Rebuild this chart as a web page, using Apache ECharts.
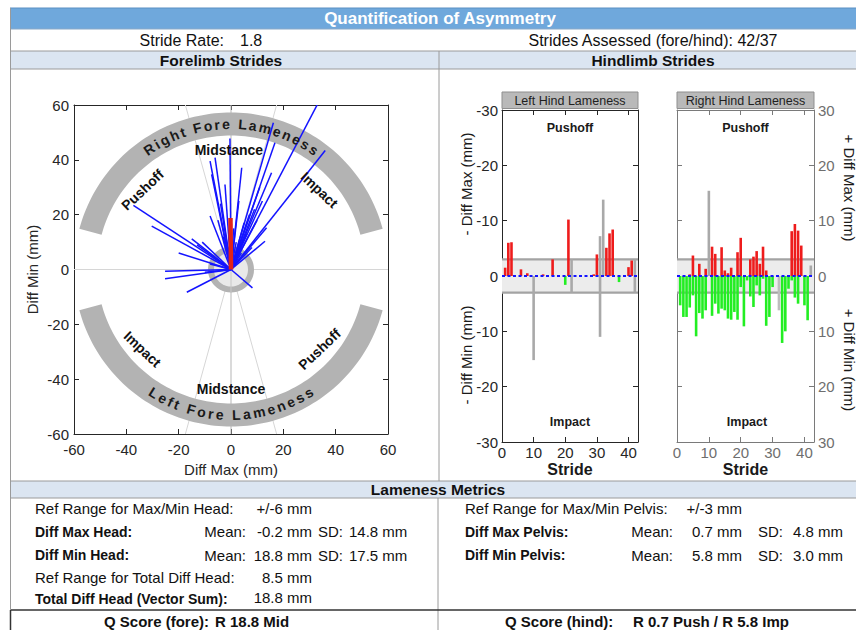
<!DOCTYPE html>
<html><head><meta charset="utf-8">
<script src="https://cdn.jsdelivr.net/npm/echarts@6/dist/echarts.min.js"></script>
<style>html,body{margin:0;padding:0;background:#fff}#c{width:856px;height:630px}</style>
</head><body><div id="c"></div>
<script>
// ---------------- DATA ----------------
// Forelimb strides: head asymmetry vector per stride (mm)
const foreDiffMax = [34, 36, 16.2, 16.8, 15.5, 11, 4.1, -0.4, -8.0, -6.1, -7.4, -2.3, -8, -37.3, -30.3, -15, -13, -11, -25.2, -25.2, -16.9, 8.2, 13.6, 13, 9, 7, 5, 10, 3, 6, 12, -3, -1, 2, -10, -8, 4, 8, -4, -20, 1, -5];
const foreDiffMin = [62, 43.4, 53.5, 46.2, 35.3, 30, 37.1, 47.8, 39.5, 40.8, 34.7, 31, 19.5, 23.4, 15.8, 11.2, 9, 10, -0.6, -3.4, -8.3, -6.7, 15.2, 10.3, 22, 20, 17, 18, 25, 13, 25, 12, 8, 10, -1, 2, 6, 8, 24, 6, 15, 18];
const foreMean = [-0.2, 18.8];
const foreTicks = [-60, -40, -20, 0, 20, 40, 60];

// Hindlimb strides (mm)
const hindTicksX = [0, 10, 20, 30, 40];
const hindTicksY = [-30, -20, -10, 0, 10, 20, 30];
const hindStrideMax = 43;
const refRangeHind = 3;

const lhPushStride = [1, 2, 3, 6, 8, 13, 16, 21, 29, 30, 33, 34, 35, 40, 41];
const lhPushVal    = [1.5, 6.0, 6.1, 1.2, 0.5, 0.3, 3.0, 10.2, 0.3, 3.9, 5.1, 7.7, 8.4, 1.6, 2.8];
const lhImpStride  = [20, 37];
const lhImpVal     = [1.6, 1.1];
const lhExUpStride = [22, 31, 32, 42];
const lhExUpVal    = [3, 7.2, 13.8, 3];
const lhExDnStride = [10, 22, 31, 42];
const lhExDnVal    = [15.2, 3, 11.0, 3];

const rhPushStride = [4, 5, 7, 9, 11, 12, 14, 15, 16, 17, 19, 20, 23, 24, 25, 26, 27, 28, 36, 37, 38, 39];
const rhPushVal    = [0.3, 3.7, 2.2, 1.3, 5.3, 4.0, 5.2, 1.0, 0.5, 1.5, 4.3, 6.9, 3.0, 3.5, 4.5, 2.2, 5.3, 1.0, 8.1, 9.4, 8.2, 5.5];
const rhImpStride  = [1, 2, 3, 4, 5, 6, 7, 8, 9, 11, 12, 13, 14, 15, 16, 17, 18, 19, 20, 21, 22, 23, 24, 25, 26, 27, 28, 29, 30, 33, 34, 35, 36, 37, 38, 40, 41];
const rhImpVal     = [5.3, 7.4, 7.4, 5.7, 3.5, 10.9, 6.7, 7.7, 6.2, 7.2, 5.0, 6.8, 5.9, 6.2, 7.7, 7.9, 6.5, 7.9, 2.0, 9.1, 0.8, 3.7, 5.6, 1.7, 3.5, 0.5, 9.0, 7.4, 2.0, 12.1, 10.0, 2.3, 0.8, 3.9, 5.0, 5.3, 8.0];
const rhExUpStride = [10, 42];
const rhExUpVal    = [15.4, 1.9];
const rhExDnStride = [32];
const rhExDnVal    = [6.2];

// ---------------- STYLE / LAYOUT ----------------
const FF = '"Liberation Sans", Arial, Helvetica, sans-serif';
const fnt = (s, b) => (b ? 'bold ' : '') + s + 'px ' + FF;
const RED = '#ee1c1c', GREEN = '#22ee22', GREY = '#a9a9a9', BLUE = '#1414ff';

const mctx = document.createElement('canvas').getContext('2d');
function tw(t, font) { mctx.font = font; return mctx.measureText(t).width; }

// decoration geometry for forelimb polar panel (x-data units)
const arcOuter = 60, arcInner = 51.2, ringOuter = 8.8, ringInner = 6.5;
const arcSpan = [15, 165];
const sectorLineAngles = [74.5, 105.5, -74.5, -105.5];
const phaseR = 45.5;
const phaseLabels = [
  {text: 'Pushoff', ang: 138, rot: 43.5}, {text: 'Midstance', ang: 91, rot: 0}, {text: 'Impact', ang: 42, rot: -43.5},
  {text: 'Impact', ang: -138, rot: -43.5}, {text: 'Midstance', ang: -90, rot: 0}, {text: 'Pushoff', ang: -42, rot: 43.5}
];
const arcTitles = [{text: 'Right Fore Lameness', side: 'top'}, {text: 'Left Fore Lameness', side: 'bottom'}];

function pt(c, r, deg) { const a = deg * Math.PI / 180; return [c[0] + r * Math.cos(a), c[1] - r * Math.sin(a)]; }

function foreBack(params, api) {
  const cs = params.coordSys, c = api.coord([0, 0]), u = api.size([1, 1]);
  const kids = [];
  kids.push({type: 'line', shape: {x1: cs.x, y1: c[1], x2: cs.x + cs.width, y2: c[1]}, style: {stroke: '#d6d6d6', lineWidth: 1}});
  sectorLineAngles.forEach(a => {
    const p = pt(c, 600, a);
    kids.push({type: 'line', shape: {x1: c[0], y1: c[1], x2: p[0], y2: p[1]}, style: {stroke: '#d6d6d6', lineWidth: 1}});
  });
  kids.push({type: 'line', shape: {x1: c[0], y1: cs.y, x2: c[0], y2: cs.y + cs.height}, style: {stroke: '#b5b5b5', lineWidth: 1}});
  const rO = arcOuter * u[0], rI = arcInner * u[0];
  [1, -1].forEach(sg => {
    const pts = [];
    for (let a = arcSpan[0]; a <= arcSpan[1] + 0.01; a += 1.5) pts.push(pt(c, rO, sg * a));
    for (let a = arcSpan[1]; a >= arcSpan[0] - 0.01; a -= 1.5) pts.push(pt(c, rI, sg * a));
    kids.push({type: 'polygon', shape: {points: pts}, style: {fill: '#b3b3b3'}});
  });
  kids.push({type: 'circle', shape: {cx: c[0], cy: c[1], r: ringOuter * u[0]}, style: {fill: '#b3b3b3'}});
  kids.push({type: 'circle', shape: {cx: c[0], cy: c[1], r: ringInner * u[0]}, style: {fill: '#e9e9e9'}});
  kids.push({type: 'line', shape: {x1: c[0], y1: c[1] - ringOuter * u[0], x2: c[0], y2: c[1] + ringOuter * u[0]}, style: {stroke: '#c8c8c8', lineWidth: 1}});
  return {type: 'group', children: kids};
}

function foreVector(params, api) {
  const o = api.coord([0, 0]), p = api.coord([api.value(0), api.value(1)]);
  return {type: 'line', shape: {x1: o[0], y1: o[1], x2: p[0], y2: p[1]}, style: {stroke: BLUE, lineWidth: 1.5}};
}
function foreMeanItem(params, api) {
  const o = api.coord([0, 0]), p = api.coord([api.value(0), api.value(1)]);
  return {type: 'line', shape: {x1: o[0], y1: o[1], x2: p[0], y2: p[1]}, style: {stroke: '#e2231a', lineWidth: 4.5}};
}

function foreText(params, api) {
  const c = api.coord([0, 0]), u = api.size([1, 1]);
  const kids = [];
  const tf = fnt(14, true), sp = 2.3, r = (arcOuter + arcInner) / 2 * u[0];
  arcTitles.forEach(t => {
    const chars = [...t.text];
    const ws = chars.map(ch => tw(ch, tf));
    const total = ws.reduce((a, b) => a + b, 0) + sp * (ws.length - 1);
    const span = total / r;
    let off = 0;
    chars.forEach((ch, i) => {
      const mid = off + ws[i] / 2;
      const th = t.side === 'top' ? Math.PI / 2 + span / 2 - mid / r : -Math.PI / 2 - span / 2 + mid / r;
      if (ch !== ' ') {
        kids.push({type: 'text', x: c[0] + r * Math.cos(th), y: c[1] - r * Math.sin(th),
          rotation: t.side === 'top' ? th - Math.PI / 2 : th + Math.PI / 2,
          style: {text: ch, font: tf, fill: '#1a1a1a', align: 'center', verticalAlign: 'middle'}});
      }
      off += ws[i] + sp;
    });
  });
  phaseLabels.forEach(l => {
    const p = pt(c, phaseR * u[0], l.ang);
    kids.push({type: 'text', x: p[0], y: p[1], rotation: l.rot * Math.PI / 180,
      style: {text: l.text, font: fnt(14, true), fill: '#111', align: 'center', verticalAlign: 'middle'}});
  });
  return {type: 'group', children: kids};
}

function hindBand(params, api) {
  const cs = params.coordSys;
  const yT = api.coord([0, refRangeHind])[1], yB = api.coord([0, -refRangeHind])[1];
  return {type: 'group', children: [
    {type: 'rect', shape: {x: cs.x, y: yT, width: cs.width, height: yB - yT}, style: {fill: '#ececec'}},
    {type: 'line', shape: {x1: cs.x, y1: yT, x2: cs.x + cs.width, y2: yT}, style: {stroke: '#a3a3a3', lineWidth: 2.2}},
    {type: 'line', shape: {x1: cs.x, y1: yB, x2: cs.x + cs.width, y2: yB}, style: {stroke: '#a3a3a3', lineWidth: 2.2}}
  ]};
}
function hindZero(params, api) {
  const cs = params.coordSys, y = api.coord([0, 0])[1];
  return {type: 'line', shape: {x1: cs.x, y1: y, x2: cs.x + cs.width, y2: y}, style: {stroke: BLUE, lineWidth: 2, lineDash: [3, 2.5]}};
}

const pairs = (s, v, sign) => s.map((x, i) => [x, sign * v[i]]);

function axisBase(color) {
  return {
    axisLine: {show: true, onZero: false, lineStyle: {color: color, width: 1}},
    axisTick: {show: true, inside: true, length: 5, lineStyle: {color: color}},
    splitLine: {show: false}
  };
}
function mirror(o, color) { return Object.assign({}, o, axisBase(color), {axisLabel: {show: false}, name: ''}); }

const foreX = Object.assign({type: 'value', gridIndex: 0, position: 'bottom', min: foreTicks[0], max: foreTicks[foreTicks.length - 1], interval: foreTicks[1] - foreTicks[0],
  name: 'Diff Max (mm)', nameLocation: 'middle', nameGap: 22, nameTextStyle: {fontSize: 15, color: '#262626', fontFamily: FF},
  axisLabel: {fontSize: 15, color: '#262626', fontFamily: FF, margin: 8}}, axisBase('#262626'));
const foreY = Object.assign({type: 'value', gridIndex: 0, position: 'left', min: foreTicks[0], max: foreTicks[foreTicks.length - 1], interval: foreTicks[1] - foreTicks[0],
  name: 'Diff Min (mm)', nameLocation: 'middle', nameGap: 34, nameTextStyle: {fontSize: 15, color: '#262626', fontFamily: FF},
  axisLabel: {fontSize: 15, color: '#262626', fontFamily: FF, margin: 5}}, axisBase('#262626'));

function hindX(g, color, lblColor) {
  return Object.assign({type: 'value', gridIndex: g, position: 'bottom', min: hindTicksX[0], max: hindStrideMax, interval: hindTicksX[1] - hindTicksX[0],
    axisLabel: {fontSize: 15, color: lblColor, fontFamily: FF, margin: 3, formatter: v => hindTicksX.indexOf(v) >= 0 ? String(v) : ''}}, axisBase(color));
}
function hindY(g, pos, color, lblColor, fmt) {
  return Object.assign({type: 'value', gridIndex: g, position: pos, min: hindTicksY[0], max: hindTicksY[hindTicksY.length - 1], interval: hindTicksY[1] - hindTicksY[0],
    axisLabel: {fontSize: 15, color: lblColor, fontFamily: FF, margin: 4, formatter: fmt}}, axisBase(color));
}
const RHC = '#7a7a7a';

const xAxes = [
  foreX, mirror(foreX, '#262626'),
  hindX(1, '#262626', '#262626'), mirror(hindX(1, '#262626', '#262626'), '#262626'),
  hindX(2, RHC, '#6e6e6e'), mirror(hindX(2, RHC, '#6e6e6e'), RHC)
];
xAxes[1].position = 'top'; xAxes[3].position = 'top'; xAxes[5].position = 'top';
const lhY = hindY(1, 'left', '#262626', '#262626', v => v === 0 ? '0' : '-' + Math.abs(v));
const rhY = hindY(2, 'right', RHC, '#6e6e6e', v => String(Math.abs(v)));
const yAxes = [foreY, mirror(foreY, '#262626'), lhY, mirror(lhY, '#262626'), mirror(rhY, RHC), rhY];
yAxes[1].position = 'right'; yAxes[3].position = 'right'; yAxes[4].position = 'left';

function barSeries(xi, data, color) {
  return {type: 'bar', xAxisIndex: xi, yAxisIndex: xi, data: data, barWidth: 2.6, barGap: '-100%', z: 3, silent: true,
    itemStyle: {color: color}, animation: false};
}

const series = [
  {type: 'custom', xAxisIndex: 0, yAxisIndex: 0, data: [[0, 0]], encode: {x: 0, y: 1}, renderItem: foreBack, clip: true, z: 1, silent: true},
  {type: 'custom', xAxisIndex: 0, yAxisIndex: 0, data: foreDiffMax.map((x, i) => [x, foreDiffMin[i]]), encode: {x: 0, y: 1}, renderItem: foreVector, clip: true, z: 2, silent: true},
  {type: 'custom', xAxisIndex: 0, yAxisIndex: 0, data: [foreMean], encode: {x: 0, y: 1}, renderItem: foreMeanItem, clip: true, z: 3, silent: true},
  {type: 'custom', xAxisIndex: 0, yAxisIndex: 0, data: [[0, 0]], encode: {x: 0, y: 1}, renderItem: foreText, clip: false, z: 4, silent: true},

  {type: 'custom', xAxisIndex: 2, yAxisIndex: 2, data: [[0, 0]], encode: {x: 0, y: 1}, renderItem: hindBand, z: 1, silent: true},
  barSeries(2, pairs(lhExUpStride, lhExUpVal, 1), GREY),
  barSeries(2, pairs(lhExDnStride, lhExDnVal, -1), GREY),
  barSeries(2, pairs(lhPushStride, lhPushVal, 1), RED),
  barSeries(2, pairs(lhImpStride, lhImpVal, -1), GREEN),
  {type: 'custom', xAxisIndex: 2, yAxisIndex: 2, data: [[0, 0]], encode: {x: 0, y: 1}, renderItem: hindZero, z: 5, silent: true},

  {type: 'custom', xAxisIndex: 4, yAxisIndex: 5, data: [[0, 0]], encode: {x: 0, y: 1}, renderItem: hindBand, z: 1, silent: true},
  Object.assign(barSeries(4, pairs(rhExUpStride, rhExUpVal, 1), GREY), {yAxisIndex: 5}),
  Object.assign(barSeries(4, pairs(rhExDnStride, rhExDnVal, -1), '#bdbdbd'), {yAxisIndex: 5}),
  Object.assign(barSeries(4, pairs(rhPushStride, rhPushVal, 1), RED), {yAxisIndex: 5}),
  Object.assign(barSeries(4, pairs(rhImpStride, rhImpVal, -1), GREEN), {yAxisIndex: 5}),
  {type: 'custom', xAxisIndex: 4, yAxisIndex: 5, data: [[0, 0]], encode: {x: 0, y: 1}, renderItem: hindZero, z: 5, silent: true}
];

// ---------------- REPORT FRAME (graphic) ----------------
const G = [];
const rect = (x, y, w, h, fill, stroke) => G.push({type: 'rect', shape: {x, y, width: w, height: h}, style: {fill, stroke: stroke || null, lineWidth: 1}, silent: true});
const line = (x1, y1, x2, y2, c, w) => G.push({type: 'line', shape: {x1, y1, x2, y2}, style: {stroke: c, lineWidth: w || 1}, silent: true});
const text = (x, y, t, font, align, fill, rot) => G.push({type: 'text', x, y, rotation: rot || 0, silent: true,
  style: {text: t, font, fill: fill || '#111', align: align || 'left', verticalAlign: 'middle'}});

rect(10, 8, 846, 21, '#6fa8dc');
line(10, 8, 856, 8, '#5a8fc2');
rect(10, 51, 846, 18, '#dbe5f1');
line(10, 29, 856, 29, '#8aa9c8');
line(10, 51, 856, 51, '#9a9a9a');
line(10, 69, 856, 69, '#9a9a9a');
line(439, 51, 439, 481, '#9a9a9a');
rect(10, 481, 846, 17, '#dbe5f1');
line(10, 481, 856, 481, '#9a9a9a');
line(10, 498, 856, 498, '#9a9a9a');
line(438, 498, 438, 630, '#9a9a9a');
line(10, 610, 856, 610, '#333', 1.5);
line(10.5, 8, 10.5, 610, '#9a9a9a');
line(10.5, 610, 10.5, 630, '#333', 1.5);

text(440, 18.5, 'Quantification of Asymmetry', fnt(17, true), 'center', '#ffffff');
text(224, 40, 'Stride Rate:', fnt(16), 'right');
text(240, 40, '1.8', fnt(16), 'left');
text(653, 40, 'Strides Assessed (fore/hind): 42/37', fnt(16), 'center');
text(221, 60, 'Forelimb Strides', fnt(15.5, true), 'center');
text(653, 60, 'Hindlimb Strides', fnt(15.5, true), 'center');
text(438, 489.5, 'Lameness Metrics', fnt(15.5, true), 'center');

// hind panel headers and labels
rect(502, 92, 136, 16.5, '#b9b9b9', '#8f8f8f');
text(570, 100.5, 'Left Hind Lameness', fnt(12.5), 'center', '#1f1f1f');
rect(677, 92, 137, 16.5, '#b9b9b9', '#8f8f8f');
text(745.5, 100.5, 'Right Hind Lameness', fnt(12.5), 'center', '#1f1f1f');
text(570, 127.5, 'Pushoff', fnt(12.5, true), 'center', '#1a1a1a');
text(570, 421.5, 'Impact', fnt(12.5, true), 'center', '#1a1a1a');
text(745.5, 127.5, 'Pushoff', fnt(12.5, true), 'center', '#1a1a1a');
text(747, 421.5, 'Impact', fnt(12.5, true), 'center', '#1a1a1a');
text(570, 469.5, 'Stride', fnt(16, true), 'center', '#1a1a1a');
text(745.5, 469.5, 'Stride', fnt(16, true), 'center', '#1a1a1a');
text(466, 184, '- Diff Max (mm)', fnt(15), 'center', '#1a1a1a', Math.PI / 2);
text(466, 355, '- Diff Min (mm)', fnt(15), 'center', '#1a1a1a', Math.PI / 2);
text(849, 188, '+ Diff Max (mm)', fnt(15), 'center', '#1a1a1a', -Math.PI / 2);
text(849, 360, '+ Diff Min (mm)', fnt(15), 'center', '#1a1a1a', -Math.PI / 2);

// metrics
const R = fnt(15), B = fnt(14, true);
text(35, 508, 'Ref Range for Max/Min Head:', R);
text(312, 508, '+/-6 mm', R, 'right');
text(35, 531.5, 'Diff Max Head:', B);
text(246, 531.5, 'Mean:', R, 'right');
text(312, 531.5, '-0.2 mm', R, 'right');
text(318, 531.5, 'SD:', R);
text(349, 531.5, '14.8 mm', R);
text(35, 555, 'Diff Min Head:', B);
text(246, 555, 'Mean:', R, 'right');
text(312, 555, '18.8 mm', R, 'right');
text(318, 555, 'SD:', R);
text(349, 555, '17.5 mm', R);
text(35, 577.5, 'Ref Range for Total Diff Head:', R);
text(312, 577.5, '8.5 mm', R, 'right');
text(35, 599, 'Total Diff Head (Vector Sum):', B);
text(312, 597, '18.8 mm', R, 'right');
text(104, 621.5, 'Q Score (fore):', fnt(15, true));
text(215, 621.5, 'R 18.8 Mid', fnt(15, true));

text(465, 508, 'Ref Range for Max/Min Pelvis:', R);
text(742, 508, '+/-3 mm', R, 'right');
text(465, 531.5, 'Diff Max Pelvis:', B);
text(673, 531.5, 'Mean:', R, 'right');
text(742, 531.5, '0.7 mm', R, 'right');
text(758, 531.5, 'SD:', R);
text(843, 531.5, '4.8 mm', R, 'right');
text(465, 555, 'Diff Min Pelvis:', B);
text(673, 555, 'Mean:', R, 'right');
text(742, 555, '5.8 mm', R, 'right');
text(758, 555, 'SD:', R);
text(843, 555, '3.0 mm', R, 'right');
text(505, 621.5, 'Q Score (hind):', fnt(15, true));
text(633, 621.5, 'R 0.7 Push / R 5.8 Imp', fnt(15, true));

const chart = echarts.init(document.getElementById('c'), null, {renderer: 'svg', width: 856, height: 630});
chart.setOption({
  backgroundColor: '#ffffff',
  animation: false,
  textStyle: {fontFamily: FF},
  grid: [
    {left: 74, top: 105, width: 314, height: 329, containLabel: false},
    {left: 502, top: 110, width: 136, height: 332, containLabel: false},
    {left: 677, top: 110, width: 137, height: 332, containLabel: false}
  ],
  xAxis: xAxes,
  yAxis: yAxes,
  series: series,
  graphic: {elements: G}
});
</script></body></html>
